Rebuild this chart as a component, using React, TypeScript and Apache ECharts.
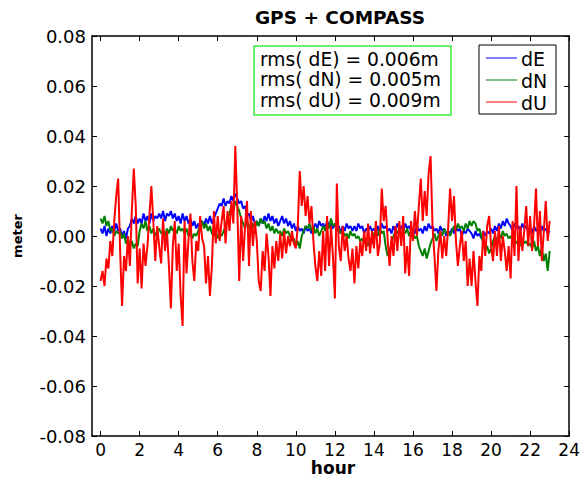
import React, { useEffect, useRef } from "react";
import * as echarts from "echarts";

// Tick positions / labels
const HOUR_TICKS = [0, 2, 4, 6, 8, 10, 12, 14, 16, 18, 20, 22, 24];
const SAMPLE_STEP_H = 0.1; // one sample every 0.1 h, starting at hour 0

// Values in millimetres (0.0 h .. 23.0 h)
const dE_mm = [
  3, 1, 4, 0, 3, 1, 4, 2, 5, 2,
  3, 0, 2, -1, 3, 4, 7, 5, 8, 5,
  7, 5, 9, 6, 8, 5, 9, 6, 8, 7,
  9, 7, 10, 6, 9, 8, 10, 7, 9, 6,
  8, 5, 9, 6, 8, 5, 7, 4, 6, 3,
  5, 3, 6, 4, 7, 5, 8, 5, 7, 9,
  11, 13, 12, 15, 12, 14, 13, 16, 14, 17,
  15, 13, 14, 11, 12, 8, 9, 6, 8, 5,
  6, 4, 7, 5, 8, 6, 9, 6, 8, 5,
  7, 4, 6, 8, 5, 7, 4, 6, 3, 5,
  2, 4, 2, 3, 1, 4, 2, 3, 1, 3,
  5, 3, 6, 4, 5, 3, 6, 4, 5, 3,
  5, 2, 4, 1, 4, 2, 5, 3, 4, 2,
  4, 2, 5, 3, 4, 1, 3, 2, 4, 2,
  3, 1, 4, 2, 5, 3, 4, 2, 3, 1,
  4, 2, 5, 3, 4, 2, 5, 3, 4, 2,
  3, 1, 4, 2, 3, 1, 4, 2, 5, 3,
  4, 2, 3, 1, 4, 2, 3, 0, 2, 1,
  3, 1, 4, 2, 3, 0, 2, 1, 3, 2,
  1, -1, 2, 0, 1, -1, 2, 0, 2, 1,
  3, 1, 4, 2, 5, 3, 6, 4, 7, 5,
  4, 2, 5, 3, 4, 2, 5, 3, 4, 2,
  3, 1, 4, 2, 3, 1, 4, 2, 3, 1,
  2,
];

const dN_mm = [
  7, 5, 8, 4, 6, 2, 3, 0, 2, 1,
  2, -1, 1, -3, -1, -4, -2, -5, -3, -4,
  2, 5, 3, 6, 2, 4, 1, 3, 0, 2,
  3, 1, 2, 0, 3, 1, 4, 2, 3, 1,
  4, 2, 3, 1, 3, 0, 2, -1, 1, 0,
  2, 4, 6, 3, 5, 2, 4, 1, 0, 2,
  -1, 1, 0, 2, 4, 7, 9, 12, 10, 14,
  12, 10, 7, 5, 3, 6, 4, 2, 5, 3,
  6, 4, 7, 5, 6, 3, 5, 2, 4, 1,
  3, 1, 2, 0, 3, 1, 2, 0, -2, -1,
  -4, -2, -5, 0, 2, 4, 3, 5, 2, 4,
  1, 3, 0, 2, 4, 2, 5, 3, 7, 4,
  5, 2, 3, 1, 2, 0, 1, -1, 2, 0,
  1, -1, 0, -2, -1, -3, -2, -4, -1, -3,
  1, 2, 0, 3, 1, 2, -4, -8, -6, -3,
  0, 2, 1, 3, 0, 2, 1, 3, 0, 2,
  1, -1, 0, -4, -6, -8, -5, -9, -6, -3,
  -1, 1, -2, 0, 2, 0, 3, 1, 2, 0,
  2, 4, 2, 5, 3, 4, 2, 5, 3, 6,
  4, 6, 5, 2, 3, 0, -3, -6, -4, -7,
  -5, -2, 0, -2, 1, -1, 2, 0, 1, -1,
  0, -2, -1, -3, -2, -4, -1, -3, -2, -4,
  -3, -5, -2, -6, -4, -8, -5, -10, -7, -14,
  -6,
];

const dU_mm = [
  -18, -14, -20, -9, -13, -2, -8, 6, 16, 23,
  -6, -28, -8, -14, 0, -12, 10, 27, 12, -19,
  -5, -21, -3, -12, -4, 8, 20, 6, -10, 4,
  -4, -11, 7, -6, 2, -12, -29, -4, 6, -14,
  -3, -24, -36, 6, -15, -2, 9, -10, -18, -2,
  -6, 8, -1, -4, -19, -8, -24, -12, 10, -3,
  8, -2, 6, 12, -3, 10, 2, 14, 5, 36,
  12, -18, 8, -10, 4, 14, -12, 10, -4, 6,
  -2, -18, -22, -6, -14, 1, -8, -24, -4, -13,
  -2, -10, 1, -9, 2, -7, 0, -4, 2, -3,
  -5, 4, 26, 12, 20, 8, 16, 5, 12, -2,
  -12, -18, -6, -16, 2, -14, 8, -12, 4, -8,
  -25, 21, -4, -10, 4, -6, 0, -9, -14, -5,
  -19, -4, -13, -2, -8, 2, -6, 5, -7, 2,
  -5, 6, -8, -3, 19, 6, 12, -1, -12, 0,
  -8, 4, -6, 6, -4, 8, -15, -4, -16, 6,
  -2, 10, 0, 12, 23, 6, 18, 8, 25, 32,
  4, -8, -22, -6, 2, -9, 0, -8, 3, 19,
  6, 16, -2, -12, -4, 2, -10, -2, -20, -9,
  -20, -6, -18, -28, -8, -14, 2, -8, 4, 8,
  -4, -10, 2, -8, 4, -10, 0, -6, -14, -4,
  -17, 6, -8, 20, -10, 4, -6, 2, 12, -4,
  8, -6, 4, 19, -4, 10, -10, 2, 14, -2,
  6,
];

const SERIES = [
  { name: "dE", color: "#0000ff", values: dE_mm },
  { name: "dN", color: "#008000", values: dN_mm },
  { name: "dU", color: "#ff0000", values: dU_mm },
];

const RMS_LINES = ["rms( dE) = 0.006m", "rms( dN) = 0.005m", "rms( dU) = 0.009m"];
const TITLE = "GPS + COMPASS";
const X_NAME = "hour";
const Y_NAME = "meter";

const FONT = "DejaVu Sans";

export default function App() {
  const ref = useRef<HTMLDivElement>(null);

  useEffect(() => {
    document.body.style.margin = "0";
    if (!ref.current) return;
    const chart = echarts.init(ref.current, undefined, { renderer: "svg" });

    const toPoints = (vals: number[]) =>
      vals.map((v, i) => [Number((i * SAMPLE_STEP_H).toFixed(2)), v / 1000]);

    const tickCommon = {
      show: true,
      inside: true,
      length: 5,
      lineStyle: { color: "#000", width: 1 },
    };
    const lineCommon = {
      show: true,
      onZero: false,
      lineStyle: { color: "#000", width: 1.5 },
    };

    const xBase = {
      type: "value" as const,
      min: -0.44,
      max: 24,
      splitLine: { show: false },
      axisLine: lineCommon,
    };
    const yBase = {
      type: "value" as const,
      min: -0.08,
      max: 0.08,
      interval: 0.02,
      splitLine: { show: false },
      axisLine: lineCommon,
    };

    const graphic: any[] = [
      {
        type: "text",
        x: 340,
        y: 17,
        style: {
          text: TITLE,
          fontFamily: FONT,
          fontWeight: "bold",
          fontSize: 18.5,
          fill: "#000",
          align: "center",
          verticalAlign: "middle",
        },
      },
      {
        type: "text",
        x: 333,
        y: 468,
        style: {
          text: X_NAME,
          fontFamily: FONT,
          fontWeight: "bold",
          fontSize: 17,
          fill: "#000",
          align: "center",
          verticalAlign: "middle",
        },
      },
      {
        type: "text",
        x: 17,
        y: 236,
        rotation: Math.PI / 2,
        style: {
          text: Y_NAME,
          fontFamily: FONT,
          fontWeight: "bold",
          fontSize: 13,
          fill: "#000",
          align: "center",
          verticalAlign: "middle",
        },
      },
      {
        type: "rect",
        z: 100,
        shape: { x: 254, y: 46, width: 197, height: 69 },
        style: { fill: "#fff", stroke: "#3cf03c", lineWidth: 1.5 },
      },
      ...RMS_LINES.map((t, i) => ({
        type: "text",
        z: 101,
        x: 260,
        y: 59 + i * 20.5,
        style: {
          text: t,
          fontFamily: FONT,
          fontSize: 18.7,
          fill: "#000",
          align: "left",
          verticalAlign: "middle",
        },
      })),
      {
        type: "rect",
        z: 100,
        shape: { x: 479, y: 45, width: 77, height: 69 },
        style: { fill: "#fff", stroke: "#000", lineWidth: 1 },
      },
      ...SERIES.flatMap((s, i) => [
        {
          type: "line",
          z: 101,
          shape: { x1: 486, y1: 58 + i * 22, x2: 517, y2: 58 + i * 22 },
          style: { stroke: s.color, lineWidth: 1 },
        },
        {
          type: "text",
          z: 101,
          x: 521,
          y: 59 + i * 22,
          style: {
            text: s.name,
            fontFamily: FONT,
            fontSize: 19,
            fill: "#000",
            align: "left",
            verticalAlign: "middle",
          },
        },
      ]),
    ];

    chart.setOption({
      animation: false,
      grid: { left: 92, right: 10, top: 36, bottom: 42, containLabel: false },
      xAxis: [
        {
          ...xBase,
          position: "bottom",
          axisTick: { ...tickCommon, customValues: HOUR_TICKS },
          axisLabel: {
            show: true,
            customValues: HOUR_TICKS,
            margin: 5,
            color: "#000",
            fontFamily: FONT,
            fontSize: 17,
            formatter: (v: number) => String(v),
          },
        },
        {
          ...xBase,
          position: "top",
          axisTick: { ...tickCommon, customValues: HOUR_TICKS },
          axisLabel: { show: false },
        },
      ],
      yAxis: [
        {
          ...yBase,
          position: "left",
          axisTick: tickCommon,
          axisLabel: {
            show: true,
            margin: 6,
            color: "#000",
            fontFamily: FONT,
            fontSize: 18,
            formatter: (v: number) => v.toFixed(2),
          },
        },
        {
          ...yBase,
          position: "right",
          axisTick: tickCommon,
          axisLabel: { show: false },
        },
      ],
      series: SERIES.map((s) => ({
        name: s.name,
        type: "line",
        xAxisIndex: 0,
        yAxisIndex: 0,
        data: toPoints(s.values),
        showSymbol: false,
        symbol: "none",
        silent: true,
        lineStyle: { color: s.color, width: 2 },
        itemStyle: { color: s.color },
        emphasis: { disabled: true },
      })),
      graphic,
    });

    return () => chart.dispose();
  }, []);

  return <div ref={ref} style={{ width: 583, height: 478 }} />;
}
